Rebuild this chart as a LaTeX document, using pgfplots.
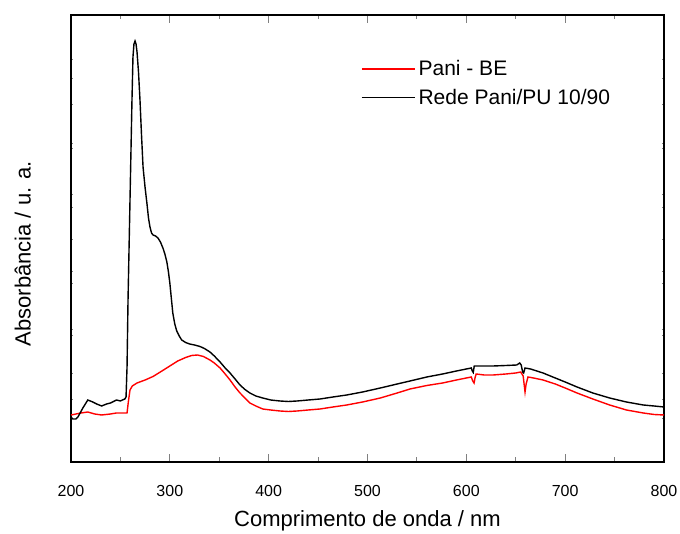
\documentclass[border=0pt]{standalone}
\usepackage{fontspec}
\setmainfont{Liberation Sans}
\usepackage{pgfplots}
\pgfplotsset{compat=1.18}

\begin{document}
\begin{tikzpicture}
\begin{axis}[
    width=593pt, height=447pt,
    scale only axis,
    xmin=200, xmax=800,
    ymin=0, ymax=447,
    xtick={200,300,...,800},
    minor x tick num=1,
    ytick={44,63,89,127,133,179,191,223,255,268,314,319,358,384,403},
    yticklabels={},
    ytick style={/pgfplots/major tick length=2.5pt, line width=0.5pt},
    xtick style={line width=0.9pt},
    major tick length=8pt,
    minor tick length=4.5pt,
    tick align=inside,
    axis line style={line width=1.8pt},
    /pgf/number format/assume math mode=true,
    /pgf/number format/1000 sep={},
    tick label style={font=\fontsize{16}{19}\selectfont},
    xticklabel style={yshift=-20pt},
    xlabel={Comprimento de onda / nm},
    ylabel={Absorbância / u. a.},
    xlabel style={font=\fontsize{22}{26}\selectfont, at={(axis description cs:0.5,-0.108)}, anchor=north, inner sep=0pt},
    ylabel style={font=\fontsize{22}{26}\selectfont, at={(axis description cs:-0.0675,0.466)}, anchor=south, inner sep=0pt},
    legend style={at={(axis description cs:0.489,0.905)}, anchor=north west,
        draw=none, fill=none, inner sep=0pt, row sep=6pt,
        font=\fontsize{21}{25}\selectfont,
        nodes={inner sep=3pt}},
    legend cell align=left,
    legend image code/.code={\draw[#1, line width=1pt] (0pt,0pt) -- (50pt,0pt); \path (0pt,0pt) -- (53pt,0pt);},
]
\coordinate (bl) at (rel axis cs:0,0);
\coordinate (tr) at (rel axis cs:1,1);

% Pani - BE
\addplot[red, line width=1.4pt] coordinates {
(200,47) (205,48) (210,49) (217,50) (224,48) (231,47) (240,48) (246,49) (252,49) (256.7,49)
(258,60) (259.7,72) (262,76) (266.8,79) (275,82) (283,85.5) (292,91) (300,96) (308,101)
(316,104.5) (322,106.5) (328,107) (334,105.5) (340.6,102) (345,99) (350.8,94) (356,88) (360.9,82)
(366,75) (371,69) (376,64) (381,59) (387,56) (394,53) (402,52) (411.5,51) (420,50.5) (428.7,51)
(440,52) (452,53) (465,55) (479,57) (495,60) (513,64) (530,69) (543,73) (560,76.5) (576,79)
(590,82) (600,84) (605,85) (606.5,81) (607.8,79) (609,85) (610,88) (618,87) (627,87) (640,88)
(650,89) (655,90) (657.5,86) (659.4,70) (660.5,78) (662.4,85) (668,84) (677.6,82) (690,78)
(700,74) (712,69) (728,63) (745,57) (762,52) (779,49) (790,47.5) (800,47)
};
\addlegendentry{Pani - BE}

% Rede Pani/PU 10/90
\addplot[black, line width=1.4pt] coordinates {
(200,45) (202,43) (205,43) (207,45) (212,54) (217,62) (222,60) (226,58) (231,56) (236,58)
(240,59) (246,62) (250,61) (252,62) (254.5,63) (255.7,65) (256.7,95) (257.7,162) (259.7,262)
(261.7,362) (262.7,405) (263.7,418) (264.8,421) (265.8,418) (266.8,410) (268.3,390)
(269.8,362) (271.3,328) (272.9,295) (274.9,275) (276.9,258) (278.4,244) (279.9,235) (281.5,229)
(283,227) (285.5,226) (288,224) (290.5,220) (293,214) (295,208) (297,200) (298.6,190)
(300,179) (301.6,163) (303,149) (305,138) (307,131) (309.5,126) (312,122) (316,119.5)
(320,118) (325,117) (330.5,115.5) (335,113.5) (340.6,110) (345,106) (350.8,100) (356,94)
(360.9,89) (366,83) (371,77) (376,72.5) (381,69) (387,66) (394,64) (402,62) (411.5,61)
(420,60.5) (428.7,61) (440,62) (452,63) (465,65) (479,67) (495,70) (513,74) (530,78)
(543,81) (560,85) (576,88) (590,91) (600,93) (605,94) (606,91) (607,89.5) (608,96) (615,96)
(627,96) (640,96.5) (651,97) (654,99) (655.5,97) (657,90) (658,89) (659.4,94) (665,93)
(677.6,89) (690,84) (700,80) (712,75) (728,69) (745,64) (762,60) (779,57) (790,56) (800,55)
};
\addlegendentry{Rede Pani/PU 10/90}
\end{axis}
\pgfresetboundingbox
\path ([shift={(-71pt,-72pt)}]bl) rectangle ([shift={(16pt,15pt)}]tr);
\end{tikzpicture}
\end{document}
